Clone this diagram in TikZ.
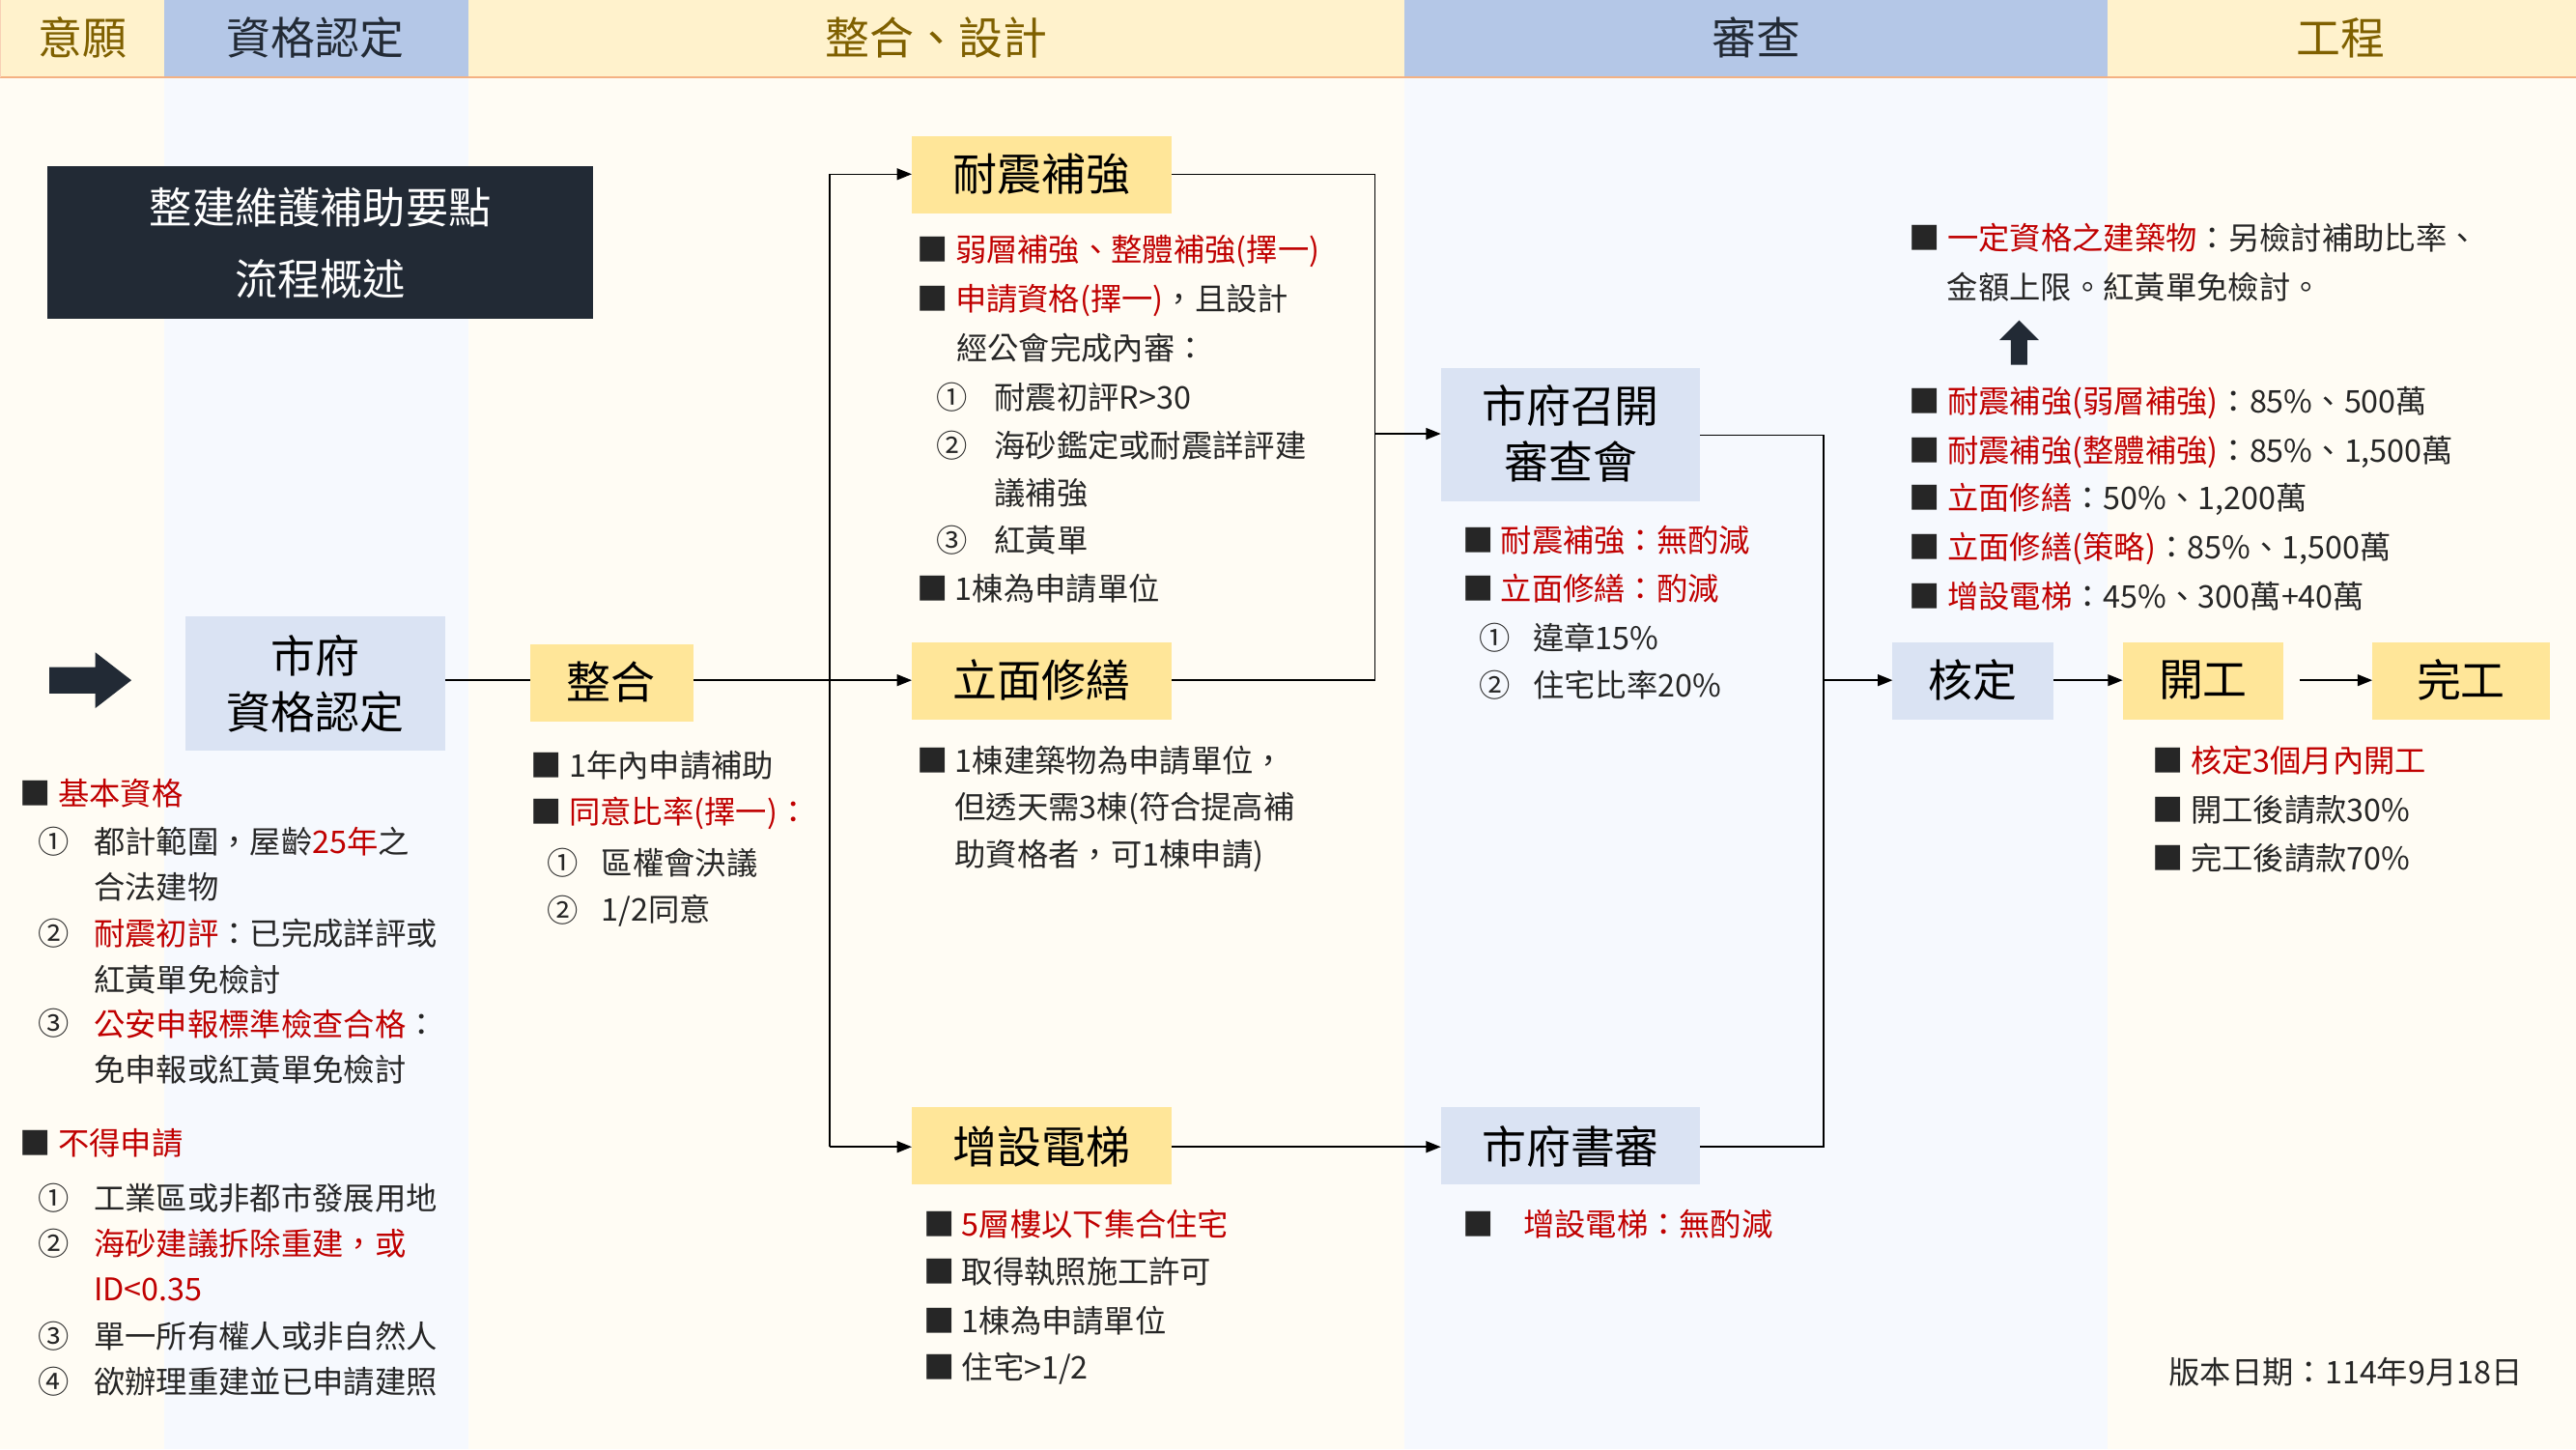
\documentclass[tikz,border=0pt]{standalone}
\usepackage{fontspec}
\setmainfont{Noto Sans CJK TC}
\definecolor{hy}{HTML}{FFF2CC}\definecolor{hb}{HTML}{B4C7E7}
\definecolor{hyt}{HTML}{7F6000}\definecolor{dk}{HTML}{222A35}
\definecolor{by}{HTML}{FFE699}\definecolor{bb}{HTML}{DAE3F3}
\definecolor{rd}{HTML}{C00000}\definecolor{fy}{HTML}{FFFCF4}\definecolor{fb}{HTML}{F6F9FE}
\definecolor{org}{HTML}{F4B183}
\newcommand\rt[1]{\textcolor{rd}{#1}}
\tikzset{
 hd/.style={font=\fontsize{27}{30}\selectfont,inner sep=0},
 bx/.style={font=\fontsize{27}{34}\selectfont,inner sep=0,align=center},
 tx/.style={anchor=west,font=\fontsize{19}{22}\selectfont,inner sep=0,text=black!85},
 ln/.style={line width=0.9pt,black},
 ar/.style={ln,-{Triangle[length=9pt,width=7pt]}}
}
\usetikzlibrary{arrows.meta}
\begin{document}
\begin{tikzpicture}[x=1pt,y=-1pt]
\useasboundingbox (0,0) rectangle (1568,882);
% column backgrounds
\fill[fy] (0,47) rectangle (100,882);
\fill[fb] (100,47) rectangle (285,882);
\fill[fy] (285,47) rectangle (855,882);
\fill[fb] (855,47) rectangle (1283,882);
\fill[fy] (1283,47) rectangle (1568,882);
% header
\fill[hy] (0,0) rectangle (100,47);
\fill[hb] (100,0) rectangle (285,47);
\fill[hy] (285,0) rectangle (855,47);
\fill[hb] (855,0) rectangle (1283,47);
\fill[hy] (1283,0) rectangle (1568,47);
\draw[org,line width=0.8pt] (0,47) -- (1568,47);
\draw[org!60,line width=0.5pt] (0,0) -- (0,47);
\node[hd,text=hyt] (h1) at (50,23) {意願};
\node[hd,text=dk] (h2) at (192,23) {資格認定};
\node[hd,text=hyt] (h3) at (570,23) {整合、設計};
\node[hd,text=dk] (h4) at (1069,23) {審查};
\node[hd,text=hyt] (h5) at (1425,23) {工程};
% title box
\fill[dk] (29,101) rectangle (361,194);
\node[text=white,font=\fontsize{26}{43}\selectfont,align=center] (title) at (195,148) {整建維護補助要點\\流程概述};
% big arrow
\fill[dk] (30,406) -- (58,406) -- (58,397) -- (80,414) -- (58,431) -- (58,422) -- (30,422) -- cycle;
% boxes
\fill[bb] (113,375) rectangle (271,457); \node[bx] (sf) at (192,416) {市府\\資格認定};
\fill[by] (323,392) rectangle (422,439); \node[bx] (zh) at (372,415) {整合};
\fill[by] (555,83) rectangle (713,130); \node[bx] (nz) at (634,106) {耐震補強};
\fill[by] (555,391) rectangle (713,438); \node[bx] (lm) at (634,414) {立面修繕};
\fill[by] (555,674) rectangle (713,721); \node[bx] (dt) at (634,698) {增設電梯};
\fill[bb] (877,224) rectangle (1035,305); \node[bx] (sc) at (956,264) {市府召開\\審查會};
\fill[bb] (877,674) rectangle (1035,721); \node[bx] (ss) at (956,698) {市府書審};
\fill[bb] (1152,391) rectangle (1250,438); \node[bx] (hd) at (1201,414) {核定};
\fill[by] (1292,391) rectangle (1390,438); \node[bx] (kg) at (1341,414) {開工};
\fill[by] (1444,391) rectangle (1552,438); \node[bx] (wg) at (1498,414) {完工};
% connectors
\coordinate (sfR) at (271,414); \coordinate (zhL) at (323,414);
\draw[ln] (sfR) -- (zhL);
\coordinate (zhR) at (422,414); \coordinate (j1) at (505,414);
\draw[ln] (zhR) -- (j1);
\coordinate (j1t) at (505,106); \coordinate (j1b) at (505,698);
\draw[ln] (j1t) -- (j1b);
\draw[ar] (j1t) -- (555,106);
\draw[ar] (j1) -- (555,414);
\draw[ar] (j1b) -- (555,698);
\coordinate (c1) at (837,106); \coordinate (c2) at (837,414); \coordinate (c3) at (837,264);
\draw[ln] (713,106) -- (c1) -- (c2) -- (713,414);
\draw[ar] (c3) -- (877,264);
\draw[ar] (713,698) -- (877,698);
\coordinate (d1) at (1110,265); \coordinate (d2) at (1110,698); \coordinate (d3) at (1110,414);
\draw[ln] (1035,265) -- (d1) -- (d2) -- (1035,698);
\draw[ar] (d3) -- (1152,414);
\draw[ar] (1250,414) -- (1292,414);
\draw[ar] (1400,414) -- (1444,414);
% up arrow
\fill[dk] (1224,222) -- (1234,222) -- (1234,207) -- (1241,207) -- (1229,195) -- (1217,207) -- (1224,207) -- cycle;
% left lists
\node[tx] at (12,483) {■ \rt{基本資格}};
\node[tx] at (23,512) {①}; \node[tx] at (57,512) {都計範圍，屋齡\rt{25年}之};
\node[tx] at (57,540) {合法建物};
\node[tx] at (23,568) {②}; \node[tx] at (57,568) {\rt{耐震初評}：已完成詳評或};
\node[tx] at (57,596) {紅黃單免檢討};
\node[tx] at (23,623) {③}; \node[tx] at (57,623) {\rt{公安申報標準檢查合格}：};
\node[tx] at (57,651) {免申報或紅黃單免檢討};
\node[tx] at (12,696) {■ \rt{不得申請}};
\node[tx] at (23,729) {①}; \node[tx] at (57,729) {工業區或非都市發展用地};
\node[tx] at (23,757) {②}; \node[tx] at (57,757) {\rt{海砂建議拆除重建，或}};
\node[tx] at (57,785) {\rt{ID<0.35}};
\node[tx] at (23,813) {③}; \node[tx] at (57,813) {單一所有權人或非自然人};
\node[tx] at (23,841) {④}; \node[tx] at (57,841) {欲辦理重建並已申請建照};
% 整合 list
\node[tx] at (323,466) {■ 1年內申請補助};
\node[tx] at (323,495) {■ \rt{同意比率(擇一)：}};
\node[tx] at (333,525) {①}; \node[tx] at (366,525) {區權會決議};
\node[tx] at (333,554) {②}; \node[tx] at (366,554) {1/2同意};
% 耐震 list
\node[tx] at (558,153) {■ \rt{弱層補強、整體補強(擇一)}};
\node[tx] at (558,183) {■ \rt{申請資格(擇一)}，且設計};
\node[tx] at (582,212) {經公會完成內審：};
\node[tx] at (570,242) {①}; \node[tx] at (605,242) {耐震初評R>30};
\node[tx] at (570,271) {②}; \node[tx] at (605,271) {海砂鑑定或耐震詳評建};
\node[tx] at (605,300) {議補強};
\node[tx] at (570,329) {③}; \node[tx] at (605,329) {紅黃單};
\node[tx] at (558,358) {■ 1棟為申請單位};
% 立面 list
\node[tx] at (558,463) {■ 1棟建築物為申請單位，};
\node[tx] at (581,492) {但透天需3棟(符合提高補};
\node[tx] at (581,521) {助資格者，可1棟申請)};
% 電梯 list
\node[tx] at (562,745) {■ \rt{5層樓以下集合住宅}};
\node[tx] at (562,774) {■ 取得執照施工許可};
\node[tx] at (562,804) {■ 1棟為申請單位};
\node[tx] at (562,833) {■ 住宅>1/2};
% 審查會 list
\node[tx] at (890,329) {■ \rt{耐震補強：無酌減}};
\node[tx] at (890,358) {■ \rt{立面修繕：酌減}};
\node[tx] at (900,388) {①}; \node[tx] at (933,388) {違章15\%};
\node[tx] at (900,417) {②}; \node[tx] at (933,417) {住宅比率20\%};
\node[tx] at (890,745) {■}; \node[tx] at (927,745) {\rt{增設電梯：無酌減}};
% right list
\node[tx] at (1162,145) {■ \rt{一定資格之建築物}：另檢討補助比率、};
\node[tx] at (1185,175) {金額上限。紅黃單免檢討。};
\node[tx] at (1162,245) {■ \rt{耐震補強(弱層補強)}：85\%、500萬};
\node[tx] at (1162,275) {■ \rt{耐震補強(整體補強)}：85\%、1,500萬};
\node[tx] at (1162,304) {■ \rt{立面修繕}：50\%、1,200萬};
\node[tx] at (1162,334) {■ \rt{立面修繕(策略)}：85\%、1,500萬};
\node[tx] at (1162,363) {■ \rt{增設電梯}：45\%、300萬+40萬};
% 工程 list
\node[tx] at (1310,463) {■ \rt{核定3個月內開工}};
\node[tx] at (1310,493) {■ 開工後請款30\%};
\node[tx] at (1310,522) {■ 完工後請款70\%};
\node[tx] at (1320,835) {版本日期：114年9月18日};
\end{tikzpicture}
\end{document}
